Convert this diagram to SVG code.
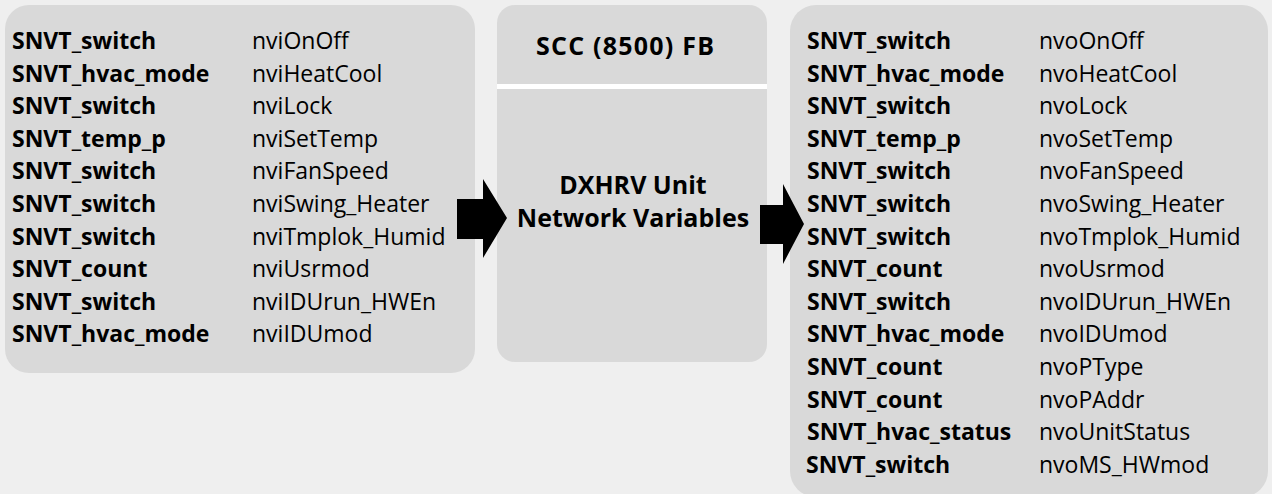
<svg xmlns="http://www.w3.org/2000/svg" width="1272" height="494" viewBox="0 0 1272 494">
<style>
.box{fill:#d9d9d9}
.b{font-family:"Open Sans","Liberation Sans",sans-serif;font-weight:bold;font-size:23px;fill:#000}
.n{font-family:"Open Sans","Liberation Sans",sans-serif;font-size:23px;fill:#000}
.t{font-family:"Open Sans","Liberation Sans",sans-serif;font-weight:bold;font-size:25px;fill:#000;text-anchor:middle}
.arrow{fill:#000}
</style>
<rect width="1272" height="494" fill="#efefef"/>
<g id="inputs">
<rect class="box" x="5" y="5" width="470" height="368" rx="24"/>
<g class="b">
<text x="12" y="49">SNVT_switch</text>
<text x="12" y="81.6">SNVT_hvac_mode</text>
<text x="12" y="114.2">SNVT_switch</text>
<text x="12" y="146.8">SNVT_temp_p</text>
<text x="12" y="179.4">SNVT_switch</text>
<text x="12" y="212">SNVT_switch</text>
<text x="12" y="244.6">SNVT_switch</text>
<text x="12" y="277.2">SNVT_count</text>
<text x="12" y="309.8">SNVT_switch</text>
<text x="12" y="342.4">SNVT_hvac_mode</text>
</g>
<g class="n">
<text x="252" y="49">nviOnOff</text>
<text x="252" y="81.6">nviHeatCool</text>
<text x="252" y="114.2">nviLock</text>
<text x="252" y="146.8">nviSetTemp</text>
<text x="252" y="179.4">nviFanSpeed</text>
<text x="252" y="212">nviSwing_Heater</text>
<text x="252" y="244.6">nviTmplok_Humid</text>
<text x="252" y="277.2">nviUsrmod</text>
<text x="252" y="309.8">nviIDUrun_HWEn</text>
<text x="252" y="342.4">nviIDUmod</text>
</g>
</g>
<g id="fb">
<rect class="box" x="497" y="5" width="270" height="357" rx="18"/>
<rect x="497" y="84" width="270" height="5" fill="#ffffff"/>
<text class="t" x="625" y="55" textLength="178" lengthAdjust="spacing">SCC (8500) FB</text>
<text class="t" x="633" y="194">DXHRV Unit</text>
<text class="t" x="633" y="227">Network Variables</text>
</g>
<g id="outputs">
<rect class="box" x="790" y="5" width="478" height="492" rx="26"/>
<g class="b">
<text x="807" y="49">SNVT_switch</text>
<text x="807" y="81.6">SNVT_hvac_mode</text>
<text x="807" y="114.2">SNVT_switch</text>
<text x="807" y="146.8">SNVT_temp_p</text>
<text x="807" y="179.4">SNVT_switch</text>
<text x="807" y="212">SNVT_switch</text>
<text x="807" y="244.6">SNVT_switch</text>
<text x="807" y="277.2">SNVT_count</text>
<text x="807" y="309.8">SNVT_switch</text>
<text x="807" y="342.4">SNVT_hvac_mode</text>
<text x="807" y="375">SNVT_count</text>
<text x="807" y="407.6">SNVT_count</text>
<text x="807" y="440.2">SNVT_hvac_status</text>
<text x="806" y="472.8">SNVT_switch</text>
</g>
<g class="n">
<text x="1039" y="49">nvoOnOff</text>
<text x="1039" y="81.6">nvoHeatCool</text>
<text x="1039" y="114.2">nvoLock</text>
<text x="1039" y="146.8">nvoSetTemp</text>
<text x="1039" y="179.4">nvoFanSpeed</text>
<text x="1039" y="212">nvoSwing_Heater</text>
<text x="1039" y="244.6">nvoTmplok_Humid</text>
<text x="1039" y="277.2">nvoUsrmod</text>
<text x="1039" y="309.8">nvoIDUrun_HWEn</text>
<text x="1039" y="342.4">nvoIDUmod</text>
<text x="1039" y="375">nvoPType</text>
<text x="1039" y="407.6">nvoPAddr</text>
<text x="1039" y="440.2">nvoUnitStatus</text>
<text x="1039" y="472.8">nvoMS_HWmod</text>
</g>
</g>
<g id="connectors">
<polygon class="arrow" points="457,199 483,199 483,179 507,218 483,258 483,239 457,239"/>
<polygon class="arrow" points="760,205 783,205 783,184 804,224 783,264 783,244 760,244"/>
</g>
</svg>
